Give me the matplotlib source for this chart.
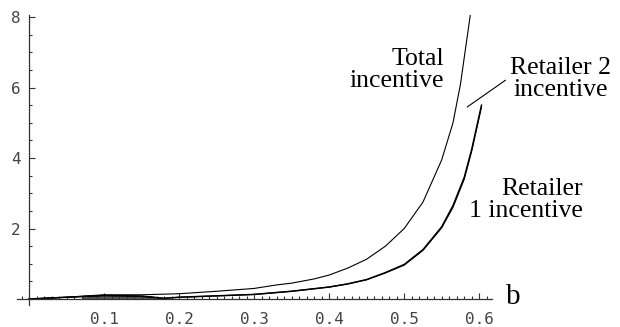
import matplotlib
matplotlib.use("Agg")
import matplotlib.pyplot as plt
from matplotlib.ticker import MultipleLocator, FixedLocator

# b values and incentives
b_total = [0.0, 0.05, 0.1, 0.15, 0.2, 0.25, 0.3, 0.33, 0.35, 0.38, 0.4, 0.425,
           0.45, 0.475, 0.5, 0.525, 0.55, 0.565, 0.575, 0.588]
total = [0.0, 0.05, 0.12, 0.12, 0.15, 0.22, 0.30, 0.40, 0.45, 0.57, 0.68, 0.88,
         1.13, 1.50, 2.00, 2.75, 3.95, 5.0, 6.1, 8.05]

b_ret = [0.0, 0.05, 0.1, 0.15, 0.18, 0.2, 0.25, 0.3, 0.35, 0.4, 0.425, 0.45,
         0.475, 0.5, 0.525, 0.55, 0.565, 0.58, 0.59, 0.603]
retailer1 = [0.0, 0.05, 0.10, 0.08, 0.02, 0.05, 0.09, 0.13, 0.22, 0.34, 0.43, 0.55,
             0.75, 0.98, 1.40, 2.05, 2.65, 3.45, 4.25, 5.5]
retailer2 = [0.0, 0.05, 0.10, 0.08, 0.02, 0.05, 0.09, 0.13, 0.22, 0.34, 0.43, 0.55,
             0.74, 0.96, 1.38, 2.02, 2.60, 3.40, 4.20, 5.45]

# dark band near the axis at small b
b_band = [0.07, 0.1, 0.13, 0.16, 0.18]
band_top = [0.10, 0.12, 0.12, 0.10, 0.02]

W, H = 620, 327
fig = plt.figure(figsize=(W / 100, H / 100), dpi=100)
ax = fig.add_axes([17 / W, 1 - 305 / H, (492 - 17) / W, (305 - 15) / H])
ax.set_xlim(-0.016, 0.617)
ax.set_ylim(-0.17, 8.06)

ax.fill_between(b_band, 0, band_top, color="#555555", lw=0)
ax.plot(b_total, total, color="black", lw=0.8)
ax.plot(b_ret, retailer1, color="black", lw=1.1)
ax.plot(b_ret, retailer2, color="black", lw=0.8)

for s in ["top", "right"]:
    ax.spines[s].set_visible(False)
ax.spines["left"].set_position(("data", 0))
ax.spines["bottom"].set_position(("data", 0))
for s in ["left", "bottom"]:
    ax.spines[s].set_color("#333333")
    ax.spines[s].set_linewidth(0.9)

ax.xaxis.set_major_locator(FixedLocator([0.1, 0.2, 0.3, 0.4, 0.5, 0.6]))
ax.xaxis.set_minor_locator(MultipleLocator(0.01))
ax.yaxis.set_major_locator(FixedLocator([2, 4, 6, 8]))
ax.yaxis.set_minor_locator(MultipleLocator(0.5))
ax.tick_params(which="both", direction="in", color="#333333", width=0.8)
ax.tick_params(which="major", length=4.5, labelsize=11.5, labelcolor="#444444")
ax.tick_params(which="minor", length=2.2)
ax.tick_params(axis="x", which="major", pad=9)
ax.tick_params(axis="y", which="major", pad=6)
ax.set_xticklabels(["0.1", "0.2", "0.3", "0.4", "0.5", "0.6"])
ax.set_yticklabels(["2", "4", "6", "8"])
for lab in ax.get_xticklabels() + ax.get_yticklabels():
    lab.set_family("DejaVu Sans Mono")

serif = ["Liberation Serif", "DejaVu Serif"]
fs = 18.5
ls = 1.0
ax.text(0.553, 6.5, "Total\nincentive", family=serif, fontsize=fs,
        ha="right", va="center", linespacing=ls, multialignment="right")
ax.text(0.708, 6.24, "Retailer 2\nincentive", family=serif, fontsize=fs,
        ha="center", va="center", linespacing=ls, multialignment="center")
ax.annotate("", xy=(0.584, 5.45), xytext=(0.635, 6.21),
            arrowprops=dict(arrowstyle="-", color="black", lw=0.8,
                            shrinkA=0, shrinkB=0))
ax.text(0.738, 2.81, "Retailer\n1 incentive", family=serif, fontsize=fs,
        ha="right", va="center", linespacing=ls, multialignment="right")
ax.text(0.645, 0.05, "b", family=serif, fontsize=21, ha="center", va="center")

for t in ax.texts:
    t.set_clip_on(False)

fig.savefig("out.png", dpi=100)
